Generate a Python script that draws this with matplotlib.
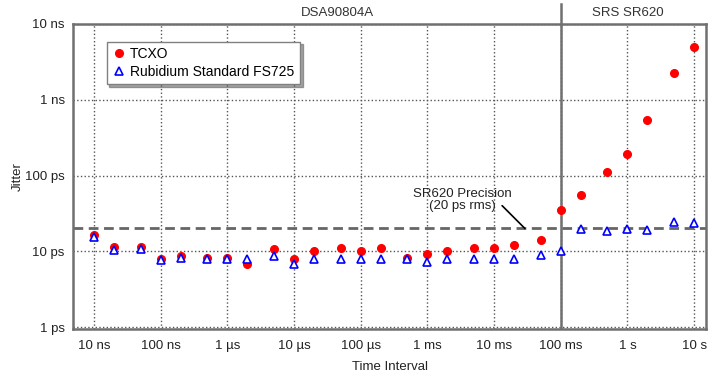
import numpy as np
import matplotlib
matplotlib.use("Agg")
import matplotlib.pyplot as plt

plt.rcParams['font.family'] = ['Liberation Sans', 'DejaVu Sans']

# time intervals (s)
tau = [1e-8, 2e-8, 5e-8, 1e-7, 2e-7, 5e-7, 1e-6, 2e-6, 5e-6,
       1e-5, 2e-5, 5e-5, 1e-4, 2e-4, 5e-4, 1e-3, 2e-3, 5e-3,
       1e-2, 2e-2, 5e-2, 1e-1, 2e-1, 5e-1, 1, 2, 5, 10]

# jitter (ps)
tcxo = [16.3, 11.5, 11.4, 7.9, 8.8, 8.2, 8.2, 6.9, 10.7,
        7.9, 10.0, 10.9, 10.1, 10.9, 8.2, 9.1, 10.0, 10.9,
        10.9, 12.0, 14.1, 35.0, 55.5, 112, 193, 536, 2240, 4930]
rubidium = [15.5, 10.5, 10.6, 7.6, 8.1, 8.0, 8.0, 8.0, 8.8,
            6.7, 8.0, 8.0, 8.0, 8.0, 8.0, 7.2, 8.0, 7.9,
            7.9, 7.9, 9.0, 10.0, 19.8, 18.6, 19.8, 19.2, 24.2, 23.7]

xticks = [1e-8, 1e-7, 1e-6, 1e-5, 1e-4, 1e-3, 1e-2, 1e-1, 1, 10]
xticklabels = ['10 ns', '100 ns', '1 µs', '10 µs', '100 µs', '1 ms',
               '10 ms', '100 ms', '1 s', '10 s']
yticks = [1e-12, 1e-11, 1e-10, 1e-9, 1e-8]
yticklabels = ['1 ps', '10 ps', '100 ps', '1 ns', '10 ns']

precision = 20e-12
split = 0.1

fig = plt.figure(figsize=(7.11, 3.74), dpi=100)
ax = fig.add_axes([0.1027, 0.120, 0.8903, 0.816])

ax.set_xscale('log')
ax.set_yscale('log')
ax.set_xlim(4.84e-9, 15.1)
ax.set_ylim(0.94e-12, 1e-8)

t = np.array(tau)
ax.plot(t, np.array(tcxo) * 1e-12, 'o', color='red', markersize=5.5,
        linestyle='none', label='TCXO', zorder=3)
ax.plot(t, np.array(rubidium) * 1e-12, '^', color='blue', markersize=5.5,
        markerfacecolor='white', markeredgewidth=1.2, linestyle='none',
        label='Rubidium Standard FS725', zorder=4)

ax.axhline(precision, color='#666666', linestyle=(0, (3.5, 2)), linewidth=2, zorder=2)
ax.axvline(split, color='#707070', linewidth=1.8, zorder=2)
ax.plot([split, split], [1e-8, 10 ** (-8 + 0.26)], color='#707070',
        linewidth=1.8, clip_on=False, zorder=2)

# precision callout
ax.text(3.3e-3, 4.75e-11, 'SR620 Precision\n(20 ps rms)', ha='center',
        va='center', fontsize=9.5, color='#222222', linespacing=1.1)
ax.annotate('', xy=(2.9e-2, precision), xytext=(1.32e-2, 4.0e-11),
            arrowprops=dict(arrowstyle='-', color='black', lw=1.2,
                            shrinkA=0, shrinkB=0))

ax.text(4.4e-5, 10 ** (-8 + 0.145), 'DSA90804A', ha='center', va='center',
        fontsize=9.5, color='#333333')
ax.text(1.0, 10 ** (-8 + 0.145), 'SRS SR620', ha='center', va='center',
        fontsize=9.5, color='#333333')

ax.set_xticks(xticks)
ax.set_xticklabels(xticklabels)
ax.set_yticks(yticks)
ax.set_yticklabels(yticklabels)
ax.minorticks_off()
ax.tick_params(axis='x', length=0, labelsize=9.5, pad=8, colors='#222222')
ax.tick_params(axis='y', length=0, labelsize=9.5, pad=6, colors='#222222')
ax.grid(True, which='major', linestyle=':', color='#555555', linewidth=1)

for s in ax.spines.values():
    s.set_color('#707070')
    s.set_linewidth(1.8)

ax.set_xlabel('Time Interval', fontsize=9.5, color='#222222', labelpad=6)
ax.set_ylabel('Jitter', fontsize=9.5, color='#222222', labelpad=1)

leg = ax.legend(loc='upper left', bbox_to_anchor=(0.042, 0.965), fontsize=10,
                frameon=True, fancybox=False, shadow=True, borderpad=0.4,
                handletextpad=0.3, handlelength=1.0, labelspacing=0.25)
leg.get_frame().set_edgecolor('#808080')
leg.get_frame().set_linewidth(1.0)

fig.savefig('out.png', dpi=100)
